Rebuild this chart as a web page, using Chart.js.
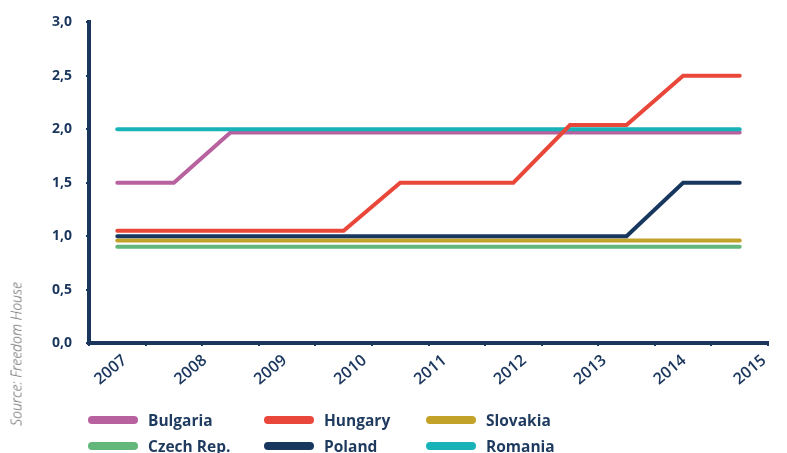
<!DOCTYPE html>
<html>
<head>
<meta charset="utf-8">
<script src="https://cdn.jsdelivr.net/npm/chart.js@4.4.1/dist/chart.umd.min.js"></script>
<style>
  html, body { margin: 0; padding: 0; background: #ffffff; }
  #wrap { position: relative; width: 787px; height: 453px; overflow: hidden; }
  #c { position: absolute; left: 0; top: 0; }
  #source { position: absolute; left: 16px; top: 354px; transform: translate(-50%, -50%) rotate(-90deg);
    font-family: "Open Sans", sans-serif; font-style: italic; font-weight: 300; font-size: 14px; color: #555; white-space: nowrap; }
  #legend { position: absolute; left: 88px; top: 410px; display: grid;
    grid-template-columns: 176px 162px 180px; row-gap: 6px; }
  .li { display: flex; align-items: center; height: 20px; }
  .sw { width: 50px; height: 8px; border-radius: 4px; margin-right: 10px; }
  .lt { font-family: "Open Sans", sans-serif; font-weight: 700; font-size: 15.5px; color: #1f3a5f; }
</style>
</head>
<body>
<div id="wrap">
  <canvas id="c" width="787" height="453"></canvas>
  <div id="source">Source: Freedom House</div>
  <div id="legend"></div>
</div>
<script>
// Data (12 half-year points between 2007 and 2015)
const points = [0.5, 1.5, 2.5, 3.5, 4.5, 5.5, 6.5, 7.5, 8.5, 9.5, 10.5, 11.5];
const yearLabels = ['2007','2008','2009','2010','2011','2012','2013','2014','2015'];
const yTickLabels = ['0,0','0,5','1,0','1,5','2,0','2,5','3,0'];

const bulgaria = [1.5, 1.5, 1.97, 1.97, 1.97, 1.97, 1.97, 1.97, 1.97, 1.97, 1.97, 1.97];
const hungary  = [1.05, 1.05, 1.05, 1.05, 1.05, 1.5, 1.5, 1.5, 2.04, 2.04, 2.5, 2.5];
const slovakia = [0.96, 0.96, 0.96, 0.96, 0.96, 0.96, 0.96, 0.96, 0.96, 0.96, 0.96, 0.96];
const czech    = [0.9, 0.9, 0.9, 0.9, 0.9, 0.9, 0.9, 0.9, 0.9, 0.9, 0.9, 0.9];
const poland   = [1.0, 1.0, 1.0, 1.0, 1.0, 1.0, 1.0, 1.0, 1.0, 1.0, 1.5, 1.5];
const romania  = [2.0, 2.0, 2.0, 2.0, 2.0, 2.0, 2.0, 2.0, 2.0, 2.0, 2.0, 2.0];

const seriesNames = ['Bulgaria', 'Hungary', 'Slovakia', 'Czech Rep.', 'Poland', 'Romania'];
const seriesValues = [bulgaria, hungary, slovakia, czech, poland, romania];
const seriesColors = ['#b8619f', '#e8473a', '#c3a229', '#63b77b', '#17375e', '#17b3b8'];

const NAVY = '#1a365d';

function toXY(vals) { return vals.map((v, i) => ({ x: points[i], y: v })); }

// draw order: keep Romania over Bulgaria, Hungary on top
const drawOrder = [5, 1, 4, 0, 2, 3];
const datasets = seriesNames.map((n, i) => ({
  label: n,
  data: toXY(seriesValues[i]),
  borderColor: seriesColors[i],
  backgroundColor: seriesColors[i],
  borderWidth: 4,
  pointRadius: 0,
  tension: 0,
  borderCapStyle: 'round',
  borderJoinStyle: 'miter',
  order: drawOrder[i],
  xAxisID: 'x',
  yAxisID: 'y'
}));

const chart = new Chart(document.getElementById('c'), {
  type: 'line',
  data: { datasets },
  options: {
    responsive: false,
    animation: false,
    devicePixelRatio: 1,
    layout: { padding: { left: 0, right: 19, top: 0, bottom: 48 } },
    plugins: { legend: { display: false }, tooltip: { enabled: false } },
    scales: {
      y: {
        type: 'linear', min: 0, max: 3,
        afterBuildTicks: (a) => { a.ticks = yTickLabels.map((_, i) => ({ value: i * 0.5 })); },
        afterFit: (s) => { s.width = 89; },
        border: { display: true, color: NAVY, width: 4 },
        grid: { display: true, drawOnChartArea: false, drawTicks: true, tickLength: 3, color: NAVY, lineWidth: 2 },
        ticks: {
          padding: 14,
          color: NAVY,
          font: { family: 'Open Sans', weight: 'bold', size: 14 },
          callback: (v, i) => yTickLabels[i]
        }
      },
      x: {
        type: 'linear', min: 0, max: 12, position: 'bottom',
        afterBuildTicks: (a) => { a.ticks = Array.from({ length: 13 }, (_, i) => ({ value: i })); },
        afterFit: (s) => { s.height = 6; },
        border: { display: true, color: NAVY, width: 4 },
        grid: { display: true, drawOnChartArea: false, drawTicks: true, tickLength: 3, color: NAVY, lineWidth: 2 },
        ticks: { display: false }
      },
      xYear: {
        type: 'linear', min: -0.45, max: 8.05, position: 'bottom',
        afterBuildTicks: (a) => { a.ticks = yearLabels.map((_, i) => ({ value: i })); },
        afterFit: (s) => { s.height = 56; },
        border: { display: false },
        grid: { display: false, drawTicks: false },
        ticks: {
          minRotation: 40, maxRotation: 40, padding: 2, autoSkip: false,
          color: NAVY,
          font: { family: 'Open Sans', weight: '600', size: 16 },
          callback: (v, i) => yearLabels[i]
        }
      }
    }
  }
});

// HTML legend built from the chart's datasets
const legendEl = document.getElementById('legend');
chart.data.datasets.forEach((ds) => {
  const item = document.createElement('div');
  item.className = 'li';
  const sw = document.createElement('span');
  sw.className = 'sw';
  sw.style.background = ds.borderColor;
  const t = document.createElement('span');
  t.className = 'lt';
  t.textContent = ds.label;
  item.appendChild(sw); item.appendChild(t);
  legendEl.appendChild(item);
});
</script>
</body>
</html>
